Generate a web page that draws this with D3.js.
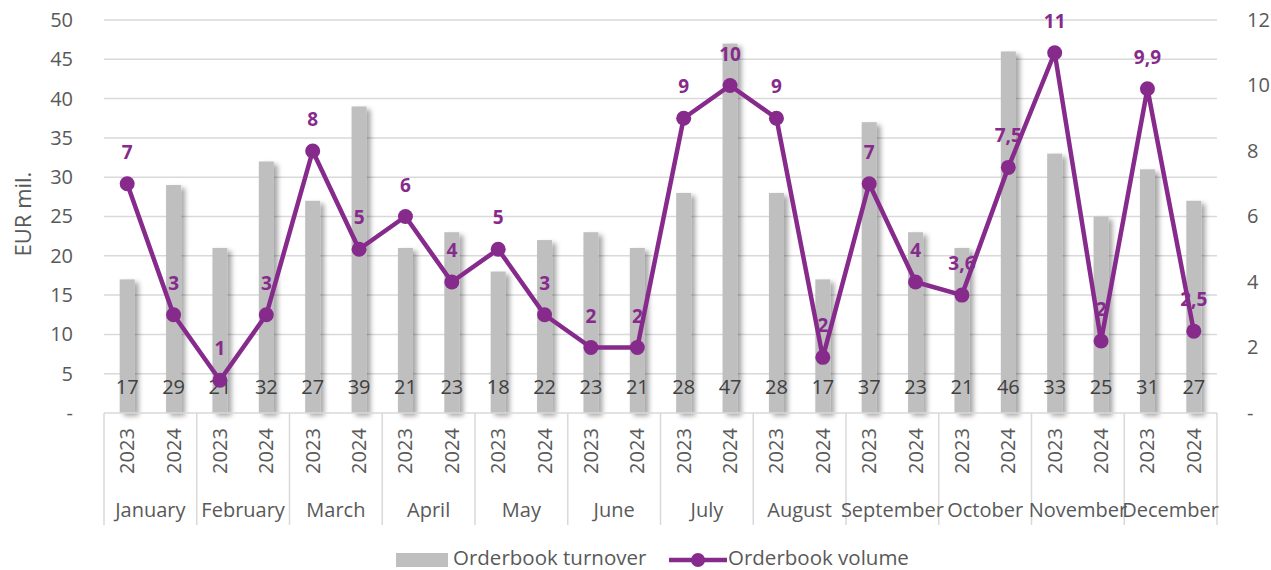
<!DOCTYPE html>
<html>
<head>
<meta charset="utf-8">
<script src="https://cdn.jsdelivr.net/npm/d3@7"></script>
<style>
  body { margin: 0; background: #fff; }
  svg { font-family: "Open Sans", sans-serif; }
</style>
</head>
<body>
<svg width="1271" height="570"></svg>
<script>
const months = ["January", "February", "March", "April", "May", "June", "July", "August", "September", "October", "November", "December"];
const years = ["2023", "2024"];
const turnover = [17, 29, 21, 32, 27, 39, 21, 23, 18, 22, 23, 21, 28, 47, 28, 17, 37, 23, 21, 46, 33, 25, 31, 27];
const volume = [7, 3, 1, 3, 8, 5, 6, 4, 5, 3, 2, 2, 9, 10, 9, 1.7, 7, 4, 3.6, 7.5, 11, 2.2, 9.9, 2.5];
const volumeLabels = ["7", "3", "1", "3", "8", "5", "6", "4", "5", "3", "2", "2", "9", "10", "9", "2", "7", "4", "3,6", "7,5", "11", "2", "9,9", "2,5"];
const leftTicks = [0, 5, 10, 15, 20, 25, 30, 35, 40, 45, 50];
const rightTicks = [0, 2, 4, 6, 8, 10, 12];

const purple = "#862a8c";
const svg = d3.select("svg");
const plotL = 104, plotR = 1217, plotT = 20, plotB = 413;

const cats = [];
months.forEach(m => years.forEach(y => cats.push(m + "|" + y)));

const x = d3.scaleBand().domain(cats).range([plotL, plotR]);
const xm = d3.scaleBand().domain(months).range([plotL, plotR]);
const y = d3.scaleLinear().domain([0, 50]).range([plotB, plotT]);
const y2 = d3.scaleLinear().domain([0, 12]).range([plotB, plotT]);

const defs = svg.append("defs");
defs.append("filter").attr("id", "shadow")
  .attr("x", "-50%").attr("y", "-10%").attr("width", "250%").attr("height", "130%")
  .append("feDropShadow")
  .attr("dx", 4).attr("dy", 3).attr("stdDeviation", 2.5)
  .attr("flood-color", "#000").attr("flood-opacity", 0.35);

// gridlines
svg.append("g").selectAll("line").data(leftTicks.slice(1)).join("line")
  .attr("x1", plotL).attr("x2", plotR)
  .attr("y1", d => y(d)).attr("y2", d => y(d))
  .attr("stroke", "#d9d9d9").attr("stroke-width", 1.5);

// left axis
const ax = svg.append("g").attr("transform", `translate(${plotL - 28},0)`)
  .call(d3.axisLeft(y).tickValues(leftTicks).tickFormat(d => d === 0 ? "-" : d).tickSize(0));
ax.select(".domain").remove();
ax.selectAll("text").attr("font-size", 20).attr("fill", "#595959").attr("font-family", "Open Sans");

// right axis
const ax2 = svg.append("g").attr("transform", `translate(${plotR + 27},0)`)
  .call(d3.axisRight(y2).tickValues(rightTicks).tickFormat(d => d === 0 ? "-" : d).tickSize(0));
ax2.select(".domain").remove();
ax2.selectAll("text").attr("font-size", 20).attr("fill", "#595959").attr("font-family", "Open Sans");

svg.append("text")
  .attr("transform", `translate(31,214) rotate(-90)`)
  .attr("text-anchor", "middle").attr("font-size", 22).attr("fill", "#595959")
  .text("EUR mil.");

// bars
const bw = 15;
svg.append("g").selectAll("rect").data(turnover).join("rect")
  .attr("x", (d, i) => x(cats[i]) + x.bandwidth() / 2 - bw / 2)
  .attr("y", d => y(d))
  .attr("width", bw)
  .attr("height", d => plotB - y(d))
  .attr("fill", "#bfbfbf")
  .attr("filter", "url(#shadow)");

svg.append("g").selectAll("text").data(turnover).join("text")
  .attr("x", (d, i) => x(cats[i]) + x.bandwidth() / 2)
  .attr("y", 394)
  .attr("text-anchor", "middle").attr("font-size", 20).attr("fill", "#404040")
  .text(d => d);

// category axis
const cat = svg.append("g");
cat.append("line").attr("x1", plotL).attr("x2", plotR).attr("y1", plotB).attr("y2", plotB)
  .attr("stroke", "#d9d9d9").attr("stroke-width", 1.5);
cat.selectAll("line.sep").data(months.concat(["end"])).join("line").attr("class", "sep")
  .attr("x1", d => d === "end" ? plotR : xm(d)).attr("x2", d => d === "end" ? plotR : xm(d))
  .attr("y1", plotB).attr("y2", 525)
  .attr("stroke", "#d9d9d9").attr("stroke-width", 1.5);
cat.selectAll("text.year").data(cats).join("text").attr("class", "year")
  .attr("transform", d => `translate(${x(d) + x.bandwidth() / 2 + 7},451) rotate(-90)`)
  .attr("text-anchor", "middle").attr("font-size", 20).attr("fill", "#595959")
  .text(d => d.split("|")[1]);
cat.selectAll("text.month").data(months).join("text").attr("class", "month")
  .attr("x", d => xm(d) + xm.bandwidth() / 2).attr("y", 517)
  .attr("text-anchor", "middle").attr("font-size", 20).attr("fill", "#595959")
  .text(d => d);

// line
const px = i => x(cats[i]) + x.bandwidth() / 2;
svg.append("path").datum(volume)
  .attr("d", d3.line().x((d, i) => px(i)).y(d => y2(d)))
  .attr("fill", "none").attr("stroke", purple).attr("stroke-width", 4.5)
  .attr("stroke-linejoin", "round");
svg.append("g").selectAll("circle").data(volume).join("circle")
  .attr("cx", (d, i) => px(i)).attr("cy", d => y2(d)).attr("r", 7.5)
  .attr("fill", purple);
svg.append("g").selectAll("text").data(volume).join("text")
  .attr("x", (d, i) => px(i)).attr("y", d => y2(d) - 25)
  .attr("text-anchor", "middle").attr("font-size", 19).attr("font-weight", "bold")
  .attr("fill", purple)
  .text((d, i) => volumeLabels[i]);

// legend
const lg = svg.append("g");
lg.append("rect").attr("x", 396).attr("y", 553).attr("width", 52).attr("height", 14).attr("fill", "#bfbfbf");
lg.append("text").attr("x", 453).attr("y", 565).attr("font-size", 20.5).attr("fill", "#595959").text("Orderbook turnover");
lg.append("line").attr("x1", 669).attr("x2", 727).attr("y1", 560).attr("y2", 560)
  .attr("stroke", purple).attr("stroke-width", 4.5);
lg.append("circle").attr("cx", 698).attr("cy", 560).attr("r", 7).attr("fill", purple);
lg.append("text").attr("x", 728).attr("y", 565).attr("font-size", 20.5).attr("fill", "#595959").text("Orderbook volume");
</script>
</body>
</html>
